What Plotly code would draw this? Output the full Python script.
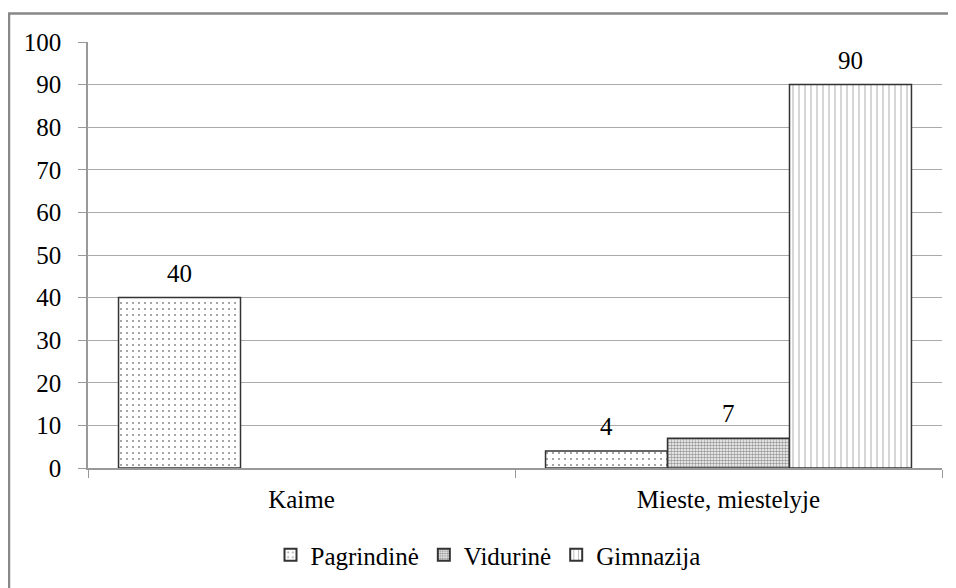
import plotly.graph_objects as go

categories = ["Kaime", "Mieste, miestelyje"]
series_names = ["Pagrindinė", "Vidurinė", "Gimnazija"]
pagrindine = [40, 4]
vidurine = [None, 7]
gimnazija = [None, 90]
y_ticks = [0, 10, 20, 30, 40, 50, 60, 70, 80, 90, 100]

# page body has an 8px margin, so the figure fills the rest of the 956x588 window
W, H = 948, 580
L, R, T, B = 80, 14, 34, 120
FONT = "Liberation Serif"
FS = 25
BARGAP = 0.143

patterns = [
    dict(shape=".", size=6, solidity=0.1, fgcolor="#222222", bgcolor="white"),
    dict(shape=".", size=3, solidity=0.55, fgcolor="#333333", bgcolor="white"),
    dict(shape="|", size=6, solidity=0.15, fgcolor="#444444", bgcolor="white"),
]

pw = W - L - R
ph = H - T - B
bar_px = pw / len(categories) * (1 - BARGAP) / len(series_names)

fig = go.Figure()
all_vals = [pagrindine, vidurine, gimnazija]
for i, (name, vals, pat) in enumerate(zip(series_names, all_vals, patterns)):
    fig.add_trace(go.Bar(
        x=categories, y=vals, name=name,
        marker=dict(color="white", pattern=pat, line=dict(color="#333333", width=1.5)),
    ))
    for c, v in zip(categories, vals):
        if v is None:
            continue
        fig.add_annotation(x=c, y=v, text=str(v), showarrow=False,
                           xanchor="center", yanchor="bottom",
                           xshift=(i - 1) * bar_px, yshift=9,
                           font=dict(family=FONT, size=FS, color="black"))

# outer chart border (left and top edges visible, rest beyond the view)
fig.add_shape(type="rect", xref="paper", yref="paper",
              x0=(1 - L) / pw, x1=(W + 20 - L) / pw,
              y0=-(H + 20 - T - ph) / ph, y1=1 + (T - 5.5) / ph,
              line=dict(color="#888888", width=2.5), layer="below")

fig.update_layout(
    width=W, height=H,
    margin=dict(l=L, r=R, t=T, b=B, autoexpand=False),
    paper_bgcolor="white", plot_bgcolor="white",
    barmode="group", bargap=BARGAP, bargroupgap=0,
    font=dict(family=FONT, size=FS, color="black"),
    showlegend=True,
    legend=dict(orientation="h", x=(480 - L) / pw, xanchor="center",
                y=-(547 - T - ph) / ph, yanchor="middle",
                font=dict(family=FONT, size=FS, color="black"),
                itemwidth=30, itemsizing="constant", tracegroupgap=0),
)
fig.update_xaxes(showline=True, linecolor="#999999", linewidth=1.5, automargin=False,
                 ticks="outside", tickson="boundaries", ticklen=8, tickcolor="#999999",
                 ticklabelstandoff=8,
                 showgrid=False, tickfont=dict(family=FONT, size=FS))
fig.update_yaxes(range=[0, 100], tickvals=y_ticks, showline=True, linecolor="#999999", linewidth=1.5,
                 automargin=False, ticklabelstandoff=12,
                 ticks="outside", ticklen=8, tickcolor="#999999",
                 showgrid=True, gridcolor="#aaaaaa", gridwidth=1, zeroline=False,
                 tickfont=dict(family=FONT, size=FS))

fig.write_html("out.html")
